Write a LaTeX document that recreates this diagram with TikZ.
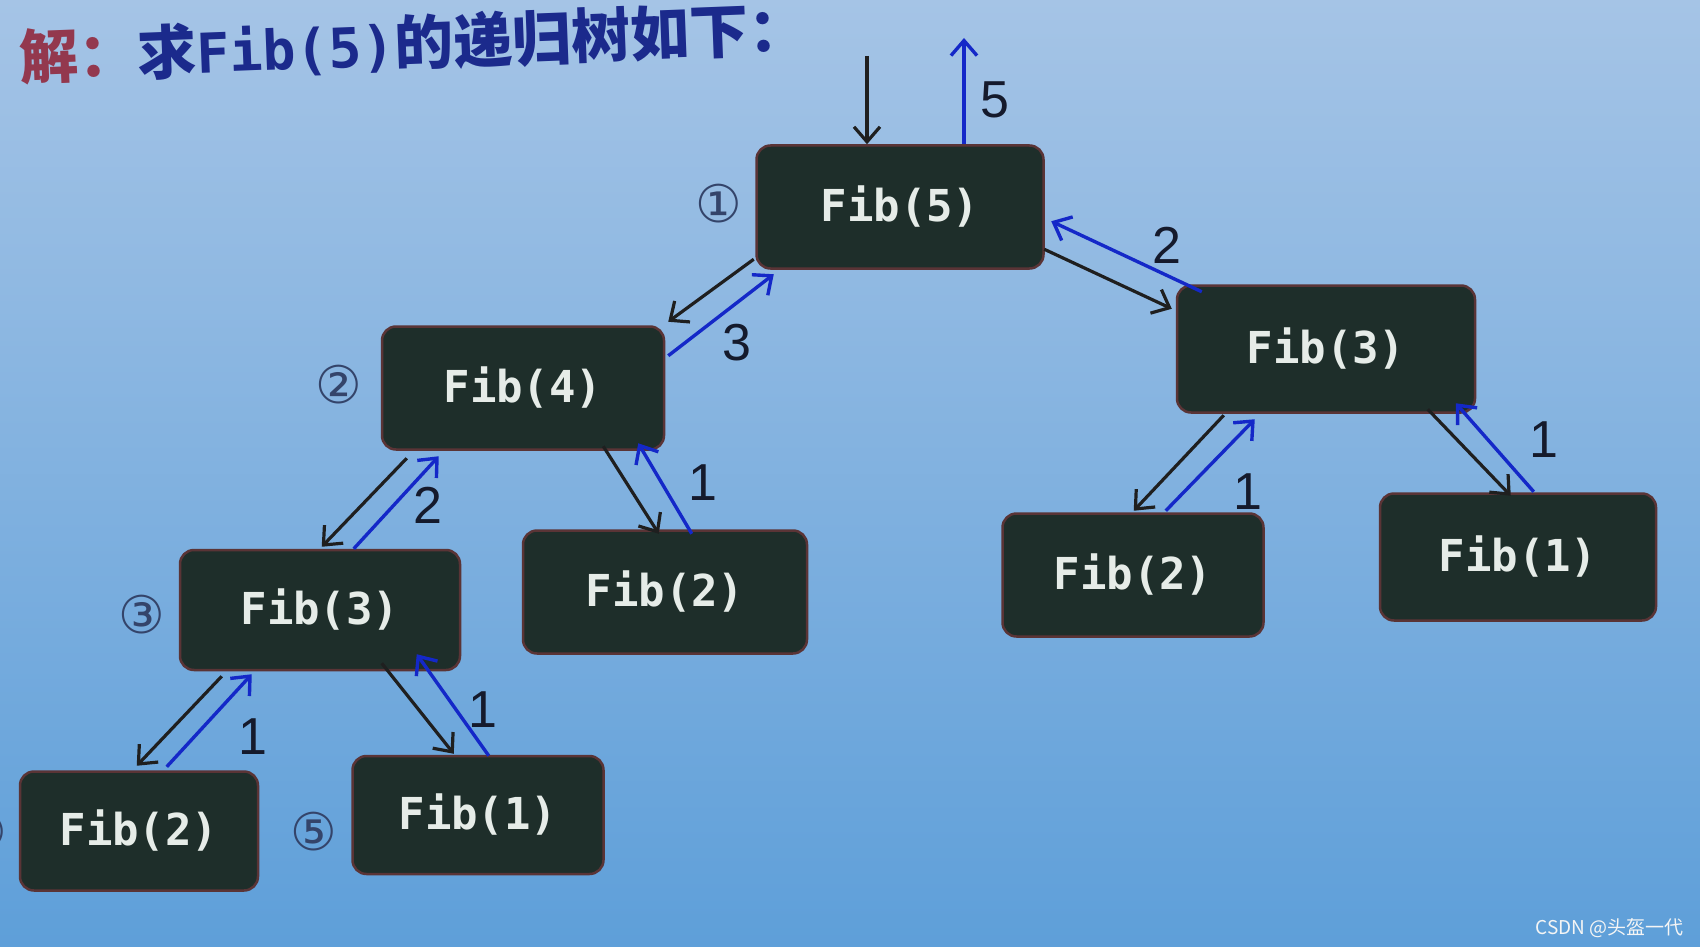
\documentclass[tikz,border=0pt]{standalone}
\usepackage{fontspec}
\setmainfont{Liberation Sans}
\newfontfamily\cjkfont{Noto Sans CJK SC}
\newfontfamily\fibmono{DejaVu Sans Mono}
\newfontfamily\circfont{DejaVu Sans}
\usetikzlibrary{arrows.meta,calc}
\definecolor{bgtop}{HTML}{A5C4E6}
\definecolor{bgbot}{HTML}{5E9FD9}
\definecolor{nodefill}{HTML}{1E2E2A}
\definecolor{nodeborder}{HTML}{5A3436}
\definecolor{nodetext}{HTML}{E6ECE8}
\definecolor{retblue}{HTML}{1428C8}
\definecolor{labelcol}{HTML}{151A2C}
\definecolor{circcol}{HTML}{34446A}
\definecolor{titlered}{HTML}{93384E}
\definecolor{titleblue}{HTML}{1B2A8C}
\begin{document}
\begin{tikzpicture}[x=1pt,y=-1pt,
  fibbox/.style={draw=nodeborder, line width=2.5pt, fill=nodefill, rounded corners=14pt,
    text=nodetext, inner sep=0pt, font=\fibmono\bfseries\fontsize{44}{48}\selectfont},
  call/.style={draw=black!88, line width=3.2pt, -{Straight Barb[length=15pt,width=26pt]}},
  ret/.style={draw=retblue, line width=3.4pt, -{Straight Barb[length=15pt,width=26pt]}},
  elabel/.style={text=labelcol, inner sep=0pt, font=\fontsize{52}{52}\selectfont},
  circnum/.style={text=circcol, inner sep=0pt, font=\circfont\fontsize{52}{52}\selectfont}]
\useasboundingbox (0,0) rectangle (1700,947);
\shade[top color=bgtop, bottom color=bgbot] (0,0) rectangle (1700,947);

% title
\node[anchor=base west, rotate=2.2, inner sep=0pt] (title) at (20,80)
  {\cjkfont\bfseries\fontsize{59}{59}\selectfont\textcolor{titlered}{解：}\textcolor{titleblue}{求{\fibmono\bfseries\fontsize{55}{55}\selectfont Fib(5)}的递归树如下：}};

% nodes
\node[fibbox, minimum width=287pt, minimum height=123pt] (n5) at (900,207) {Fib(5)};
\node[fibbox, minimum width=282pt, minimum height=123pt] (n4) at (523,388) {Fib(4)};
\node[fibbox, minimum width=298pt, minimum height=127pt] (n3r) at (1326,349) {Fib(3)};
\node[fibbox, minimum width=280pt, minimum height=120pt] (n3l) at (320,610) {Fib(3)};
\node[fibbox, minimum width=284pt, minimum height=123pt] (n2m) at (665,592) {Fib(2)};
\node[fibbox, minimum width=261pt, minimum height=123pt] (n2r) at (1133,575) {Fib(2)};
\node[fibbox, minimum width=276pt, minimum height=127pt] (n1r) at (1518,557) {Fib(1)};
\node[fibbox, minimum width=238pt, minimum height=119pt] (n2l) at (139,831) {Fib(2)};
\node[fibbox, minimum width=251pt, minimum height=118pt] (n1b) at (478,815) {Fib(1)};

% circled order numbers
\node[circnum] (c1) at (719,204) {①};
\node[circnum] (c2) at (339,385) {②};
\node[circnum] (c3) at (142,615) {③};
\node[circnum] (c4) at (-16,832) {④};
\node[circnum] (c5) at (314,832) {⑤};

% entry / exit
\coordinate (in) at (867,56);
\coordinate (out) at (964,38);
\draw[call] (in) -- ($(n5.north)+(-33,0)$);
\draw[ret] ($(n5.north)+(64,0)$) -- (out);
\node[elabel] (l5) at (995,100) {5};

% Fib(5) -> Fib(4)
\draw[call] ($(n5.south west)+(-1.5,-10.5)$) -- ($(n4.north east)+(3,-3.5)$);
\draw[ret] ($(n4.north east)+(3,30.5)$) -- ($(n5.south west)+(18.5,4.5)$);
\node[elabel] (l54) at (737,343) {3};

% Fib(5) -> Fib(3) right
\draw[call] ($(n5.south east)+(-0.5,-20.5)$) -- ($(n3r.north west)+(-4,24.5)$);
\draw[ret] ($(n3r.north west)+(26,7.5)$) -- ($(n5.south east)+(6.5,-48.5)$);
\node[elabel] (l53) at (1167,245) {2};

% Fib(4) -> Fib(3) left
\draw[call] ($(n4.south west)+(26,7.5)$) -- ($(n3l.north west)+(143,-2)$);
\draw[ret] ($(n3l.north west)+(175,0)$) -- ($(n4.south west)+(58,5.5)$);
\node[elabel] (l43) at (428,505) {2};

% Fib(4) -> Fib(2) middle
\draw[call] ($(n4.south east)+(-62,-4.5)$) -- ($(n2m.north west)+(137,4.5)$);
\draw[ret] ($(n2m.north west)+(170,4.5)$) -- ($(n4.south east)+(-27,-7.5)$);
\node[elabel] (l42) at (703,483) {1};

% Fib(3) right -> Fib(2) right
\draw[call] ($(n3r.south west)+(48,1.5)$) -- ($(n2r.north west)+(132.5,-1.5)$);
\draw[ret] ($(n2r.north west)+(164.5,-1.5)$) -- ($(n3r.south west)+(79,5.5)$);
\node[elabel] (l32r) at (1248,492) {1};

% Fib(3) right -> Fib(1) right
\draw[call] ($(n3r.south west)+(252,-4.5)$) -- ($(n1r.north west)+(132,3.5)$);
\draw[ret] ($(n1r.north west)+(155,-0.5)$) -- ($(n3r.south west)+(280,-10.5)$);
\node[elabel] (l31r) at (1544,440) {1};

% Fib(3) left -> Fib(2) left
\draw[call] ($(n3l.south west)+(43,5)$) -- ($(n2l.north west)+(118,-4.5)$);
\draw[ret] ($(n2l.north west)+(148,-3.5)$) -- ($(n3l.south west)+(73,3)$);
\node[elabel] (l32l) at (253,737) {1};

% Fib(3) left -> Fib(1) bottom
\draw[call] ($(n3l.south west)+(203,-8)$) -- ($(n1b.north west)+(102.5,-1)$);
\draw[ret] ($(n1b.north west)+(137.5,1)$) -- ($(n3l.south west)+(238,-17)$);
\node[elabel] (l31l) at (483,710) {1};

% watermark
\node[anchor=base east, inner sep=0pt, text=white!92!gray] (wm) at (1684,934)
  {\cjkfont\fontsize{19}{19}\selectfont CSDN @头盔一代};
\end{tikzpicture}
\end{document}
